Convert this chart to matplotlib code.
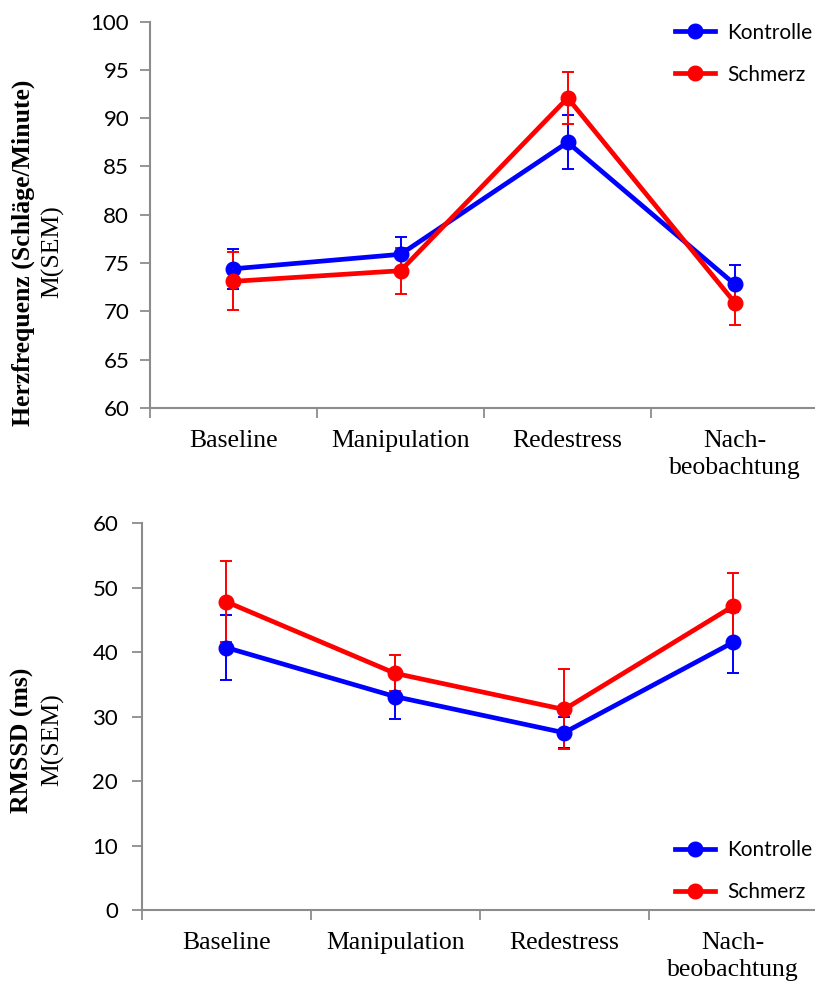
import numpy as np
import matplotlib
matplotlib.use('Agg')
import matplotlib.pyplot as plt
from matplotlib.lines import Line2D

# categories / data
phases = ['Baseline', 'Manipulation', 'Redestress', 'Nach-\nbeobachtung']

hr_kontrolle = [74.4, 75.9, 87.5, 72.8]
hr_kontrolle_sem = [2.1, 1.8, 2.8, 2.0]
hr_schmerz = [73.1, 74.2, 92.1, 70.9]
hr_schmerz_sem = [3.0, 2.4, 2.7, 2.3]

rmssd_kontrolle = [40.7, 33.1, 27.5, 41.5]
rmssd_kontrolle_sem = [5.0, 3.4, 2.4, 4.7]
rmssd_schmerz = [47.8, 36.7, 31.1, 47.1]
rmssd_schmerz_sem = [6.3, 2.8, 6.2, 5.1]

BLUE = '#0000ff'
RED = '#ff0000'
GREY = '#8c8c8c'
SERIF = 'Liberation Serif'
SANS = 'Lato'

fig = plt.figure(figsize=(8.15, 9.85), dpi=100)
ax1 = fig.add_axes([0.184, 0.586, 0.820, 0.392])
ax2 = fig.add_axes([0.174, 0.076, 0.829, 0.393])

def draw(ax, k, ks, s, ss, ylim, ystep, tickpad):
    x = np.arange(len(phases))
    for y, e, c in [(k, ks, BLUE), (s, ss, RED)]:
        ax.errorbar(x, y, yerr=e, color=c, lw=3.4, marker='o', ms=10.5,
                    elinewidth=1.4, capsize=4.5, capthick=1.4)
    ax.set_xlim(-0.5, len(phases) - 0.5)
    ax.set_ylim(*ylim)
    ax.set_yticks(np.arange(ylim[0], ylim[1] + 0.1, ystep))
    ax.set_xticks(np.arange(-0.5, len(phases), 1.0))
    ax.set_xticklabels([])
    ax.set_xticks(x, minor=True)
    ax.set_xticklabels(phases, minor=True, fontfamily=SERIF, fontsize=18.5,
                       linespacing=1.3)
    ax.tick_params(axis='x', which='minor', length=0, pad=16)
    ax.tick_params(axis='x', which='major', length=7, width=1.3, color=GREY,
                   direction='out')
    ax.tick_params(axis='y', length=7, width=1.3, color=GREY, pad=tickpad,
                   labelsize=16)
    for lab in ax.get_yticklabels():
        lab.set_fontfamily(SANS)
    for sp in ['top', 'right']:
        ax.spines[sp].set_visible(False)
    for sp in ['left', 'bottom']:
        ax.spines[sp].set_color(GREY)
        ax.spines[sp].set_linewidth(1.5)

draw(ax1, hr_kontrolle, hr_kontrolle_sem, hr_schmerz, hr_schmerz_sem,
     (60, 100), 5, 8)
draw(ax2, rmssd_kontrolle, rmssd_kontrolle_sem, rmssd_schmerz, rmssd_schmerz_sem,
     (0, 60), 10, 10)

# y labels (bold line + regular M(SEM))
fig.text(0.028, 1 - 253 / 985, 'Herzfrequenz (Schläge/Minute)', rotation=90,
         ha='center', va='center', fontfamily=SERIF, fontweight='bold', fontsize=18.5)
fig.text(0.065, 1 - 252 / 985, 'M(SEM)', rotation=90,
         ha='center', va='center', fontfamily=SERIF, fontsize=18.5)
fig.text(0.028, 1 - 740 / 985, 'RMSSD (ms)', rotation=90,
         ha='center', va='center', fontfamily=SERIF, fontweight='bold', fontsize=18.5)
fig.text(0.065, 1 - 740 / 985, 'M(SEM)', rotation=90,
         ha='center', va='center', fontfamily=SERIF, fontsize=18.5)

handles = [Line2D([], [], color=BLUE, lw=3.4, marker='o', ms=10.5),
           Line2D([], [], color=RED, lw=3.4, marker='o', ms=10.5)]
for yy in [0.977, 0.147]:
    fig.legend(handles, ['Kontrolle', 'Schmerz'], loc='upper left',
               bbox_to_anchor=(0.828, yy), frameon=False, borderpad=0,
               borderaxespad=0, handlelength=1.95, handletextpad=0.55,
               labelspacing=1.05, numpoints=1,
               prop={'family': SANS, 'size': 15})

fig.savefig('out.png', dpi=100)
